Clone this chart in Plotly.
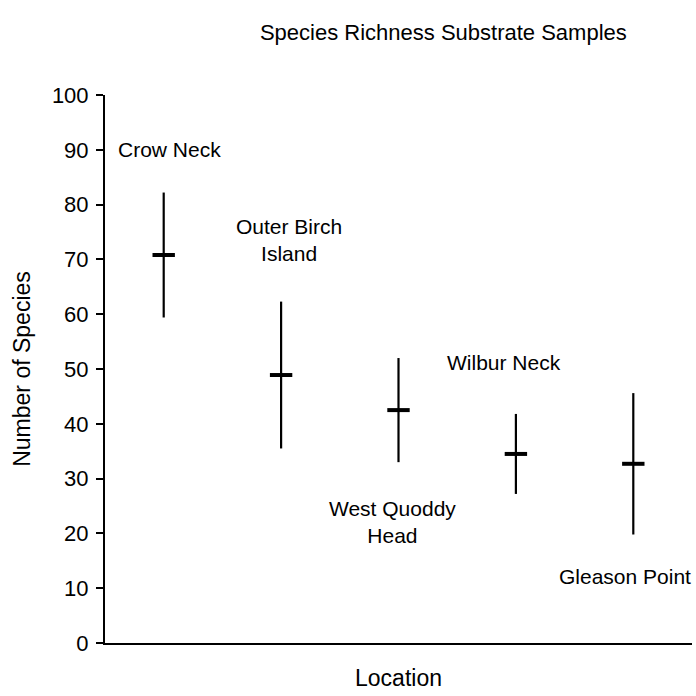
import plotly.graph_objects as go

# Species richness per sampling location: mean with symmetric spread
locations = ["Crow Neck", "Outer Birch<br>Island", "West Quoddy<br>Head", "Wilbur Neck", "Gleason Point"]
mean_species = [70.8, 48.9, 42.5, 34.5, 32.7]
spread = [11.4, 13.4, 9.5, 7.3, 12.9]

# Where each location name sits (category offset, species value)
label_x = [0.05, 1.07, 1.95, 2.90, 3.93]
label_y = [90.0, 73.5, 22.1, 51.1, 12.2]

y_ticks = list(range(0, 101, 10))

FONT = "Liberation Sans, Arial, sans-serif"
positions = list(range(len(locations)))

fig = go.Figure()
fig.add_trace(go.Scatter(
    x=positions,
    y=mean_species,
    mode="markers",
    marker=dict(symbol="line-ew", size=16, color="black",
                line=dict(color="black", width=4)),
    error_y=dict(type="data", array=spread, symmetric=True,
                 color="black", thickness=2.2, width=0),
    showlegend=False,
    hoverinfo="skip",
))

for name, lx, ly in zip(locations, label_x, label_y):
    fig.add_annotation(x=lx, y=ly, xref="x", yref="y", text=name,
                       showarrow=False, align="center",
                       font=dict(family=FONT, size=21, color="black"))

fig.update_layout(
    width=696, height=696,
    margin=dict(l=105, r=4, t=95, b=53),
    paper_bgcolor="white", plot_bgcolor="white",
    font=dict(family=FONT, size=21, color="black"),
    title=dict(text="Species Richness Substrate Samples",
               x=0.637, xanchor="center", xref="container",
               y=0.954, yanchor="middle",
               font=dict(family=FONT, size=22, color="black")),
)

fig.update_xaxes(
    range=[-0.5, len(locations) - 0.5],
    showgrid=False, zeroline=False,
    showline=True, linecolor="black", linewidth=2,
    showticklabels=False, ticks="",
    title=dict(text="Location", standoff=26,
               font=dict(family=FONT, size=23, color="black")),
)

fig.update_yaxes(
    range=[0, 100],
    tickvals=y_ticks,
    showgrid=False, zeroline=False,
    showline=True, linecolor="black", linewidth=2,
    ticks="outside", ticklen=7, tickwidth=2, tickcolor="black",
    ticklabelstandoff=3,
    tickfont=dict(family=FONT, size=22, color="black"),
    title=dict(text="Number of Species", standoff=15,
               font=dict(family=FONT, size=23, color="black")),
)

fig.write_html("out.html")
